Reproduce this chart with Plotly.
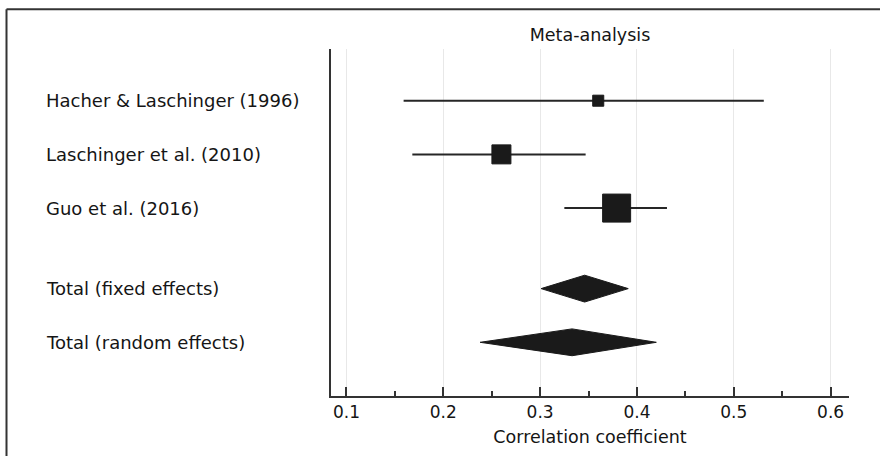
import plotly.graph_objects as go
import numpy as np

# ---- data ----
studies = ["Hacher & Laschinger (1996)", "Laschinger et al. (2010)", "Guo et al. (2016)"]
study_est = [0.36, 0.26, 0.379]
study_lo = [0.159, 0.168, 0.325]
study_hi = [0.531, 0.347, 0.431]
study_weight = [9.6, 28.5, 61.9]
study_pos = [0, 1, 2]

totals = ["Total (fixed effects)", "Total (random effects)"]
total_est = [0.346, 0.333]
total_lo = [0.301, 0.238]
total_hi = [0.391, 0.420]
total_pos = [3.5, 4.5]

x_ticks = [0.1, 0.2, 0.3, 0.4, 0.5, 0.6]
x_ticklabels = ["0.1", "0.2", "0.3", "0.4", "0.5", "0.6"]

# ---- layout constants ----
W, H = 880, 456
L, R, T, B = 331, 31, 49, 58
FONT = "DejaVu Sans"
FS = 17.5
TXT = "#151515"
DARK = "#1a1a1a"

fig = go.Figure()

# CI lines
for lo, hi, p in zip(study_lo, study_hi, study_pos):
    fig.add_trace(go.Scatter(x=[lo, hi], y=[p, p], mode="lines",
                             line=dict(color="#262626", width=2),
                             showlegend=False, hoverinfo="skip"))

# squares sized by weight
sizes = [3.56 * np.sqrt(w) for w in study_weight]
fig.add_trace(go.Scatter(x=study_est, y=study_pos, mode="markers",
                         marker=dict(symbol="square", size=sizes, color=DARK, opacity=1,
                                     line=dict(color=DARK, width=1)),
                         showlegend=False))

# diamonds
half_h = 0.25
for lo, est, hi, p in zip(total_lo, total_est, total_hi, total_pos):
    fig.add_trace(go.Scatter(x=[lo, est, hi, est, lo], y=[p, p - half_h, p, p + half_h, p],
                             mode="lines", fill="toself", fillcolor=DARK,
                             line=dict(color=DARK, width=1),
                             showlegend=False, hoverinfo="skip"))

# row labels
pw, ph = W - L - R, H - T - B
label_x = (44 - L) / pw
for name, p in zip(studies + totals, study_pos + total_pos):
    fig.add_annotation(text=name, x=label_x, xref="paper", y=p, yref="y",
                       xanchor="left", yanchor="middle", showarrow=False,
                       font=dict(family=FONT, size=18, color=TXT))

# outer frame (top and left edges)
x_left = (6.5 - L) / pw
y_top = (H - B - 9) / ph
fig.add_shape(type="line", xref="paper", yref="paper", x0=x_left, x1=(W + 5 - L) / pw,
              y0=y_top, y1=y_top, line=dict(color="#333333", width=2))
fig.add_shape(type="line", xref="paper", yref="paper", x0=x_left, x1=x_left,
              y0=y_top, y1=(H - B - H - 5) / ph, line=dict(color="#333333", width=2))

fig.update_layout(
    width=W, height=H,
    margin=dict(l=L, r=R, t=T, b=B),
    paper_bgcolor="white", plot_bgcolor="white",
    font=dict(family=FONT, size=FS, color=TXT),
    title=dict(text="Meta-analysis", x=(L + pw / 2) / W, xanchor="center",
               y=1 - 35 / H, yanchor="middle",
               font=dict(family=FONT, size=17.5, color=TXT)),
    showlegend=False,
)

fig.update_xaxes(
    range=[0.084, 0.619], tickvals=x_ticks, ticktext=x_ticklabels,
    showgrid=True, gridcolor="#e8e8e8", gridwidth=1,
    showline=True, linecolor="#333333", linewidth=2,
    ticks="inside", ticklen=9, tickwidth=2, tickcolor="#333333",
    minor=dict(dtick=0.05, tick0=0, ticks="inside", ticklen=5, tickwidth=2,
               tickcolor="#333333", showgrid=False),
    zeroline=False,
    title=dict(text="Correlation coefficient", standoff=9,
               font=dict(family=FONT, size=17.5, color=TXT)),
    tickfont=dict(family=FONT, size=17, color=TXT),
)
fig.update_yaxes(
    range=[5.5, -(101 - T) / 54], showticklabels=False, ticks="",
    showgrid=False, zeroline=False,
    showline=True, linecolor="#333333", linewidth=2,
)

fig.write_html("out.html", config={"displayModeBar": False},
               post_script="document.body.style.margin='0';")
